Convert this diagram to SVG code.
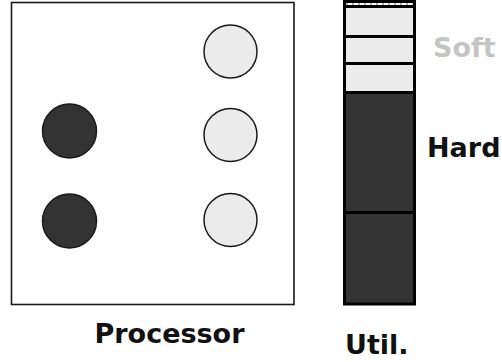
<svg xmlns="http://www.w3.org/2000/svg" width="502" height="362" viewBox="0 0 502 362">
  <style>
    .lbl { font-family: "DejaVu Sans", Verdana, sans-serif; font-weight: bold; font-size: 27px; fill: #111; }
    .soft { fill: #c4c4c4; }
    .frame { fill: #fff; stroke: #1a1a1a; stroke-width: 1.6; }
    .task-hard { fill: #333; stroke: #1a1a1a; stroke-width: 1.5; }
    .task-soft { fill: #ebebeb; stroke: #1a1a1a; stroke-width: 1.5; }
    .seg { stroke: #000; stroke-width: 3; }
  </style>
  <rect width="502" height="362" fill="#fff"/>

  <!-- processor with its tasks -->
  <g id="processor">
    <rect class="frame" x="11.5" y="2.5" width="282.5" height="302"/>
    <circle class="task-hard" cx="69.5" cy="131" r="27"/>
    <circle class="task-hard" cx="69.5" cy="221" r="27"/>
    <circle class="task-soft" cx="230.5" cy="51.5" r="26.5"/>
    <circle class="task-soft" cx="230.5" cy="135" r="26.5"/>
    <circle class="task-soft" cx="230.5" cy="220" r="26.5"/>
    <text class="lbl" x="94.5" y="343">Processor</text>
  </g>

  <!-- utilization bar -->
  <g id="util">
    <rect x="344.5" y="6.5" width="70" height="86" fill="#ebebeb"/>
    <rect x="344.5" y="92.5" width="70" height="211" fill="#333"/>
    <line x1="346" y1="4" x2="413" y2="4" stroke="#999" stroke-width="1.5" stroke-dasharray="2 4"/>
    <line class="seg" x1="344.5" y1="6.5" x2="414.5" y2="6.5"/>
    <line class="seg" x1="344.5" y1="36.5" x2="414.5" y2="36.5"/>
    <line class="seg" x1="344.5" y1="63.5" x2="414.5" y2="63.5"/>
    <line class="seg" x1="344.5" y1="92.5" x2="414.5" y2="92.5"/>
    <line class="seg" x1="344.5" y1="212.5" x2="414.5" y2="212.5"/>
    <rect x="344.5" y="1.5" width="70" height="302.5" fill="none" stroke="#000" stroke-width="3"/>
    <text class="lbl" x="345" y="354">Util.</text>
  </g>

  <g id="soft-label">
    <text class="lbl soft" x="433" y="56.5">Soft</text>
  </g>
  <g id="hard-label">
    <text class="lbl" x="427" y="157">Hard</text>
  </g>
</svg>
